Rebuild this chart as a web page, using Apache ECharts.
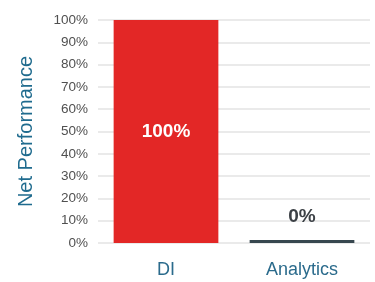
<!DOCTYPE html>
<html>
<head>
<meta charset="utf-8">
<script src="https://cdn.jsdelivr.net/npm/echarts@6/dist/echarts.min.js"></script>
<style>
  html, body { margin: 0; padding: 0; background: #fff; }
  #main { width: 375px; height: 282px; }
</style>
</head>
<body>
<div id="main"></div>
<script>
var categories = ['DI', 'Analytics'];
var values = [100, 0];
var barColors = ['#e32726', '#37474f'];
var labelColors = ['#ffffff', '#3c4146'];

var chart = echarts.init(document.getElementById('main'));

var option = {
    animation: false,
    grid: { left: 98, right: 5, top: 20, bottom: 39 },
    xAxis: {
        type: 'category',
        data: categories,
        axisLine: { show: false },
        axisTick: { show: false },
        axisLabel: {
            margin: 18,
            fontFamily: 'Liberation Sans',
            fontSize: 18,
            color: '#2b6b8c'
        }
    },
    yAxis: {
        type: 'value',
        min: 0,
        max: 100,
        interval: 10,
        name: 'Net Performance',
        nameLocation: 'middle',
        nameGap: 62,
        nameTextStyle: {
            fontFamily: 'Liberation Sans',
            fontSize: 20,
            color: '#1f6b8e'
        },
        axisLabel: {
            margin: 10,
            fontFamily: 'Liberation Sans',
            fontSize: 13.5,
            color: '#505050',
            formatter: '{value}%'
        },
        splitLine: { lineStyle: { color: '#e3e3e3', width: 1.5 } }
    },
    series: [{
        type: 'bar',
        barWidth: '77%',
        barMinHeight: 3,
        data: values.map(function (v, i) {
            return {
                value: v,
                itemStyle: { color: barColors[i] },
                label: {
                    show: true,
                    position: i === 0 ? 'inside' : 'top',
                    distance: 14,
                    color: labelColors[i],
                    fontFamily: 'Liberation Sans',
                    fontWeight: 'bold',
                    fontSize: 19,
                    formatter: '{c}%'
                }
            };
        })
    }]
};

chart.setOption(option);
</script>
</body>
</html>
